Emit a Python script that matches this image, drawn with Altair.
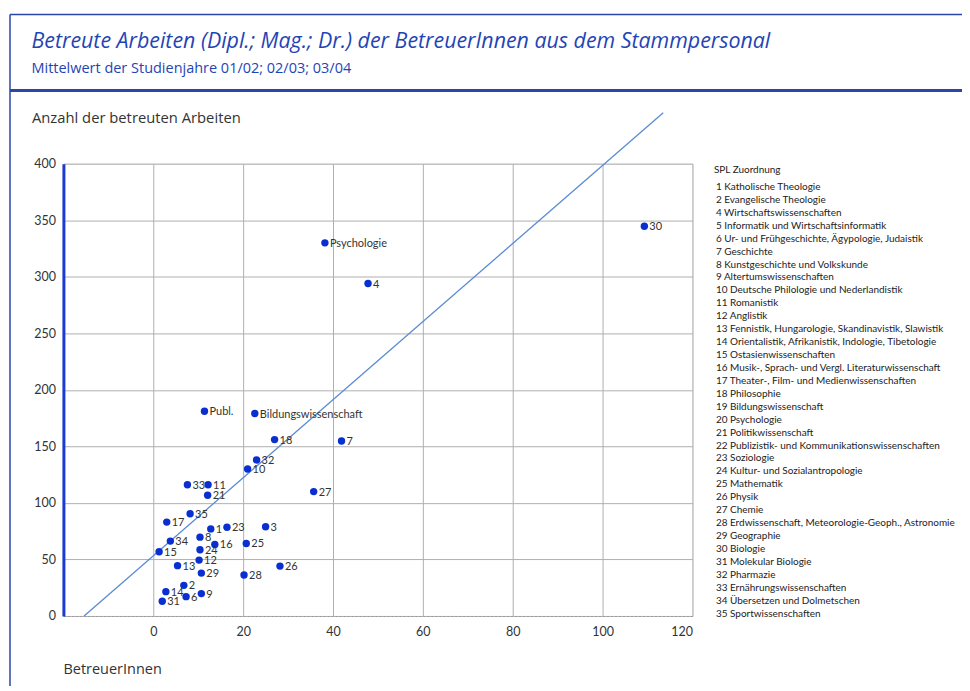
import altair as alt
import pandas as pd

# ---- data ----
labels = ["Psychologie", "4", "30", "Publ.", "Bildungswissenschaft", "18", "7", "32", "10", "27",
          "33", "11", "21", "35", "17", "1", "23", "3", "8", "34",
          "16", "25", "24", "15", "12", "13", "26", "29", "28", "2",
          "14", "9", "6", "31"]
betreuer = [38.2, 47.8, 109.3, 11.4, 22.6, 27.0, 41.9, 23.0, 21.0, 35.7,
            7.6, 12.2, 12.1, 8.2, 3.0, 12.8, 16.4, 25.0, 10.4, 3.8,
            13.7, 20.7, 10.4, 1.3, 10.2, 5.4, 28.2, 10.7, 20.2, 6.8,
            2.8, 10.7, 7.3, 2.0]
arbeiten = [330, 294, 344.7, 181, 179, 156, 154.8, 138, 130, 110,
            116, 116, 106.8, 90.4, 83, 77, 78.5, 78.9, 69.7, 66.2,
            63.3, 64.1, 58.6, 56.8, 49.4, 44.5, 44.1, 37.9, 36.2, 27.1,
            21.5, 19.8, 17.1, 13.0]

fit_x = [-15.4, 113.5]
fit_y = [0, 445]

legend_title = "SPL Zuordnung"
spl_names = [
    "1 Katholische Theologie",
    "2 Evangelische Theologie",
    "4 Wirtschaftswissenschaften",
    "5 Informatik und Wirtschaftsinformatik",
    "6 Ur- und Frühgeschichte, Ägypologie, Judaistik",
    "7 Geschichte",
    "8 Kunstgeschichte und Volkskunde",
    "9 Altertumswissenschaften",
    "10 Deutsche Philologie und Nederlandistik",
    "11 Romanistik",
    "12 Anglistik",
    "13 Fennistik, Hungarologie, Skandinavistik, Slawistik",
    "14 Orientalistik, Afrikanistik, Indologie, Tibetologie",
    "15 Ostasienwissenschaften",
    "16 Musik-, Sprach- und Vergl. Literaturwissenschaft",
    "17 Theater-, Film- und Medienwissenschaften",
    "18 Philosophie",
    "19 Bildungswissenschaft",
    "20 Psychologie",
    "21 Politikwissenschaft",
    "22 Publizistik- und Kommunikationswissenschaften",
    "23 Soziologie",
    "24 Kultur- und Sozialantropologie",
    "25 Mathematik",
    "26 Physik",
    "27 Chemie",
    "28 Erdwissenschaft, Meteorologie-Geoph., Astronomie",
    "29 Geographie",
    "30 Biologie",
    "31 Molekular Biologie",
    "32 Pharmazie",
    "33 Ernährungswissenschaften",
    "34 Übersetzen und Dolmetschen",
    "35 Sportwissenschaften",
]

x_ticks = [0, 20, 40, 60, 80, 100, 120]
y_ticks = [0, 50, 100, 150, 200, 250, 300, 350, 400]

FONT = "Lato"
FONT2 = "Open Sans"
BLUE_TXT = "#1f45b5"
FRAME = "#2a47a8"
TXT = "#333333"

df = pd.DataFrame({"x": betreuer, "y": arbeiten, "label": labels})
fit = pd.DataFrame({"x": fit_x, "y": fit_y})
leg = pd.DataFrame({"name": spl_names})
one = pd.DataFrame({"k": [0]})
leg_title_df = pd.DataFrame({"t": [legend_title]})

xs = alt.Scale(domain=[-20, 120], nice=False, zero=False)
ys = alt.Scale(domain=[0, 400], nice=False)

points = alt.Chart(df).mark_circle(size=55, color="#0a2fd0", opacity=1).encode(
    x=alt.X("x:Q", scale=xs, axis=alt.Axis(
        values=x_ticks, title="BetreuerInnen", grid=True, ticks=False,
        labelPadding=10, labelFontSize=12.5, labelColor=TXT, labelFont=FONT,
        domainColor="#9a9a9a", domainDash=[2, 2], gridColor="#b0b0b0",
        titleX=-0.5, titleY=58, titleAlign="left", titleBaseline="alphabetic",
        titleFont=FONT2, titleFontSize=14.5, titleFontWeight="normal", titleColor=TXT)),
    y=alt.Y("y:Q", scale=ys, axis=alt.Axis(
        values=y_ticks, title="Anzahl der betreuten Arbeiten", grid=True, ticks=False,
        labelPadding=8, labelFontSize=12.5, labelColor=TXT, labelFont=FONT,
        domainColor="#1a3ad0", domainWidth=3, gridColor="#b0b0b0",
        titleAngle=0, titleX=-32, titleY=-41, titleAlign="left", titleBaseline="alphabetic",
        titleFont=FONT2, titleFontSize=14.8, titleFontWeight="normal", titleColor=TXT)),
)

texts = alt.Chart(df).mark_text(align="left", baseline="middle", dx=5, dy=1,
                                fontSize=11, font=FONT, color=TXT).encode(
    x=alt.X("x:Q", scale=xs), y=alt.Y("y:Q", scale=ys), text="label:N")

line = alt.Chart(fit).mark_line(color="#5b8bd4", strokeWidth=1.3, clip=False).encode(
    x=alt.X("x:Q", scale=xs), y=alt.Y("y:Q", scale=ys))

legend_layer = alt.Chart(leg).mark_point(opacity=0).encode(
    x=alt.value(0), y=alt.value(0),
    color=alt.Color("name:N", sort=spl_names,
                    scale=alt.Scale(domain=spl_names, range=[TXT]),
                    legend=alt.Legend(
                        title=None, orient="none",
                        legendX=643.5, legendY=18.3,
                        symbolSize=1, symbolOpacity=0, symbolStrokeWidth=0, labelOffset=0,
                        symbolLimit=0,
                        labelFontSize=10, labelFont=FONT, labelColor="#222222", labelLimit=400,
                        rowPadding=2.95, padding=0)),
)

legend_title_mark = alt.Chart(leg_title_df).mark_text(
    align="left", baseline="middle", fontSize=10, font=FONT, color="#222222").encode(
    x=alt.value(651.5), y=alt.value(5.9), text="t:N")

top_rule = alt.Chart(one).mark_rule(color=FRAME, strokeWidth=1.5, clip=False).encode(
    x=alt.value(-53.5), x2=alt.value(910), y=alt.value(-149.4))
mid_rule = alt.Chart(one).mark_rule(color=FRAME, strokeWidth=3, clip=False).encode(
    x=alt.value(-53.5), x2=alt.value(910), y=alt.value(-73.4))
left_rule = alt.Chart(one).mark_rule(color=FRAME, strokeWidth=1.5, clip=False).encode(
    x=alt.value(-53.5), y=alt.value(-149.4), y2=alt.value(540))

chart = alt.layer(top_rule, mid_rule, left_rule, line, points, texts, legend_layer,
                  legend_title_mark).properties(
    width=630, height=453,
    title=alt.TitleParams(
        text="Betreute Arbeiten (Dipl.; Mag.; Dr.) der BetreuerInnen aus dem Stammpersonal",
        subtitle="Mittelwert der Studienjahre 01/02; 02/03; 03/04",
        anchor="start", frame="group", dx=-32, offset=-62,
        font=FONT2, fontStyle="italic", fontWeight="normal", fontSize=21.4, color=BLUE_TXT,
        subtitleFont=FONT2, subtitleFontSize=14.5, subtitleColor=BLUE_TXT, subtitlePadding=10),
    autosize=alt.AutoSizeParams(type="none"),
    padding={"left": 55.5, "top": 155.4, "right": 270, "bottom": 70},
).configure_view(stroke="#8a8a8a", strokeDash=[2, 2], strokeWidth=1).configure(background="white")

chart.save("out.html", embed_options={"renderer": "svg", "actions": False})
